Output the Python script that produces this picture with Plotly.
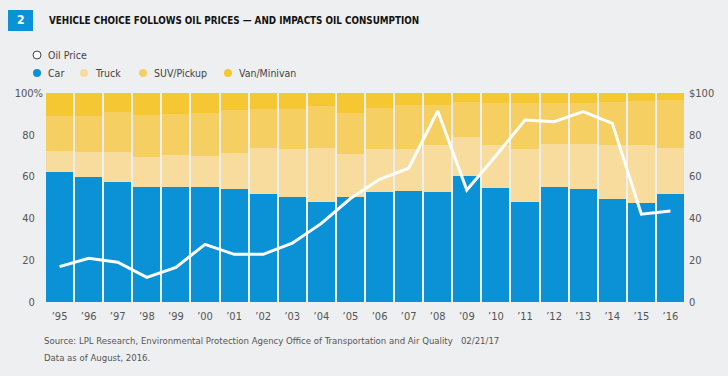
import plotly.graph_objects as go

years = ["’95", "’96", "’97", "’98", "’99", "’00", "’01", "’02", "’03", "’04", "’05",
         "’06", "’07", "’08", "’09", "’10", "’11", "’12", "’13", "’14", "’15", "’16"]
car = [62.0, 60.0, 57.6, 55.2, 55.2, 55.2, 53.9, 51.5, 50.2, 48.0, 50.2,
       52.8, 53.1, 52.8, 60.5, 54.4, 48.0, 55.2, 54.1, 49.1, 47.2, 51.7]
truck = [10.4, 11.9, 14.3, 14.3, 15.1, 14.8, 17.2, 22.0, 22.8, 25.5, 20.5,
         20.2, 19.9, 22.3, 18.6, 20.7, 25.2, 20.2, 21.5, 26.0, 27.8, 21.8]
suv = [16.6, 17.1, 18.9, 20.0, 19.7, 20.3, 20.8, 18.8, 19.3, 20.3, 19.6,
       19.7, 21.3, 19.2, 16.4, 19.9, 21.8, 19.6, 19.4, 20.8, 21.0, 23.1]
van = [11.0, 11.0, 9.2, 10.5, 10.0, 9.7, 8.1, 7.7, 7.7, 6.2, 9.7,
       7.3, 5.7, 5.7, 4.5, 5.0, 5.0, 5.0, 5.0, 4.1, 4.0, 3.4]
oil = [16.9, 20.9, 19.0, 11.8, 16.6, 27.6, 22.8, 22.8, 28.1, 37.6, 49.5,
       58.7, 64.0, 91.4, 53.6, 70.0, 87.1, 86.3, 91.1, 85.5, 42.0, 43.5]

PAD = "\u2007\u2009"
left_ticks = ["0" + PAD, "20" + PAD, "40" + PAD, "60" + PAD, "80" + PAD, "100%"]
right_ticks = ["0", "20", "40", "60", "80", "$100"]
tick_vals = [0, 20, 40, 60, 80, 100]

C_CAR = "#0b92d6"
C_TRUCK = "#f8dc9e"
C_SUV = "#f5cf62"
C_VAN = "#f4c733"
BG = "#eeeff1"
FONT = "DejaVu Sans Condensed, DejaVu Sans, sans-serif"
GREY = "#555555"

fig = go.Figure()
for name, vals, col in [("Car", car, C_CAR), ("Truck", truck, C_TRUCK),
                        ("SUV/Pickup", suv, C_SUV), ("Van/Minivan", van, C_VAN)]:
    fig.add_trace(go.Bar(x=years, y=vals, name=name, marker=dict(color=col, line=dict(width=0)),
                         showlegend=False, hoverinfo="y+name"))
fig.add_trace(go.Scatter(x=years, y=oil, name="Oil Price", mode="lines",
                         line=dict(color="white", width=3), yaxis="y2", showlegend=False))

fig.update_layout(
    barmode="stack",
    bargap=0.07,
    width=728, height=376,
    paper_bgcolor=BG, plot_bgcolor=BG,
    margin=dict(l=45, r=43, t=93, b=74, autoexpand=False),
    font=dict(family=FONT, size=11, color=GREY),
    xaxis=dict(showgrid=False, zeroline=False, showline=False, ticks="",
               ticklabelstandoff=6, tickfont=dict(size=11, color=GREY)),
    yaxis=dict(range=[0, 100], tickvals=tick_vals, ticktext=left_ticks, showgrid=False,
               zeroline=False, showline=False, ticks="", ticklabelstandoff=1,
               tickfont=dict(size=11, color=GREY)),
    yaxis2=dict(range=[0, 100], tickvals=tick_vals, ticktext=right_ticks, overlaying="y",
                side="right", showgrid=False, zeroline=False, showline=False, ticks="",
                ticklabelstandoff=3, tickfont=dict(size=11, color=GREY)),
)


def px_to_paper(xp, yp):
    return (xp - 45) / 640.0, (302 - yp) / 209.0


shapes = []
annotations = []
x0, y0 = px_to_paper(8, 31)
x1, y1 = px_to_paper(33, 10)
shapes.append(dict(type="rect", xref="paper", yref="paper", x0=x0, y0=y0, x1=x1, y1=y1,
                   fillcolor="#0b92d6", line=dict(width=0), layer="above"))
bx, by = px_to_paper(20.5, 20.5)
annotations.append(dict(text="<b>2</b>", x=bx, y=by, xref="paper", yref="paper",
                        showarrow=False, font=dict(family=FONT, size=12, color="white"),
                        xanchor="center", yanchor="middle"))
tx, ty = px_to_paper(47, 20.5)
annotations.append(dict(text="<b>VEHICLE CHOICE FOLLOWS OIL PRICES — AND IMPACTS OIL CONSUMPTION</b>",
                        x=tx, y=ty, xref="paper", yref="paper", showarrow=False,
                        font=dict(family=FONT, size=9.8, color="#111111"),
                        xanchor="left", yanchor="middle"))

legend_items = [("Oil Price", None, 37, 55), ("Car", C_CAR, 37, 73), ("Truck", C_TRUCK, 84, 73),
                ("SUV/Pickup", C_SUV, 143, 73), ("Van/Minivan", C_VAN, 228, 73)]
r = 4
for label, col, cx, cy in legend_items:
    ax0, ay0 = px_to_paper(cx - r, cy + r)
    ax1, ay1 = px_to_paper(cx + r, cy - r)
    if col is None:
        shapes.append(dict(type="circle", xref="paper", yref="paper", x0=ax0, y0=ay0, x1=ax1, y1=ay1,
                           fillcolor="white", line=dict(color="#444444", width=1)))
    else:
        shapes.append(dict(type="circle", xref="paper", yref="paper", x0=ax0, y0=ay0, x1=ax1, y1=ay1,
                           fillcolor=col, line=dict(width=0)))
    lx, ly = px_to_paper(cx + 9, cy)
    annotations.append(dict(text=label, x=lx, y=ly, xref="paper", yref="paper", showarrow=False,
                            font=dict(family=FONT, size=10.5, color="#444444"),
                            xanchor="left", yanchor="middle"))

fx, fy = px_to_paper(42, 340)
annotations.append(dict(text="Source: LPL Research, Environmental Protection Agency Office of Transportation and Air Quality   02/21/17",
                        x=fx, y=fy, xref="paper", yref="paper", showarrow=False,
                        font=dict(family=FONT, size=9.5, color=GREY), xanchor="left", yanchor="middle"))
fx, fy = px_to_paper(42, 357)
annotations.append(dict(text="Data as of August, 2016.", x=fx, y=fy, xref="paper", yref="paper",
                        showarrow=False, font=dict(family=FONT, size=9.5, color=GREY),
                        xanchor="left", yanchor="middle"))

fig.update_layout(shapes=shapes, annotations=annotations)
fig.write_html("out.html", config={"displayModeBar": False},
               post_script="document.body.style.margin='0';document.body.style.background='#eeeff1';")
